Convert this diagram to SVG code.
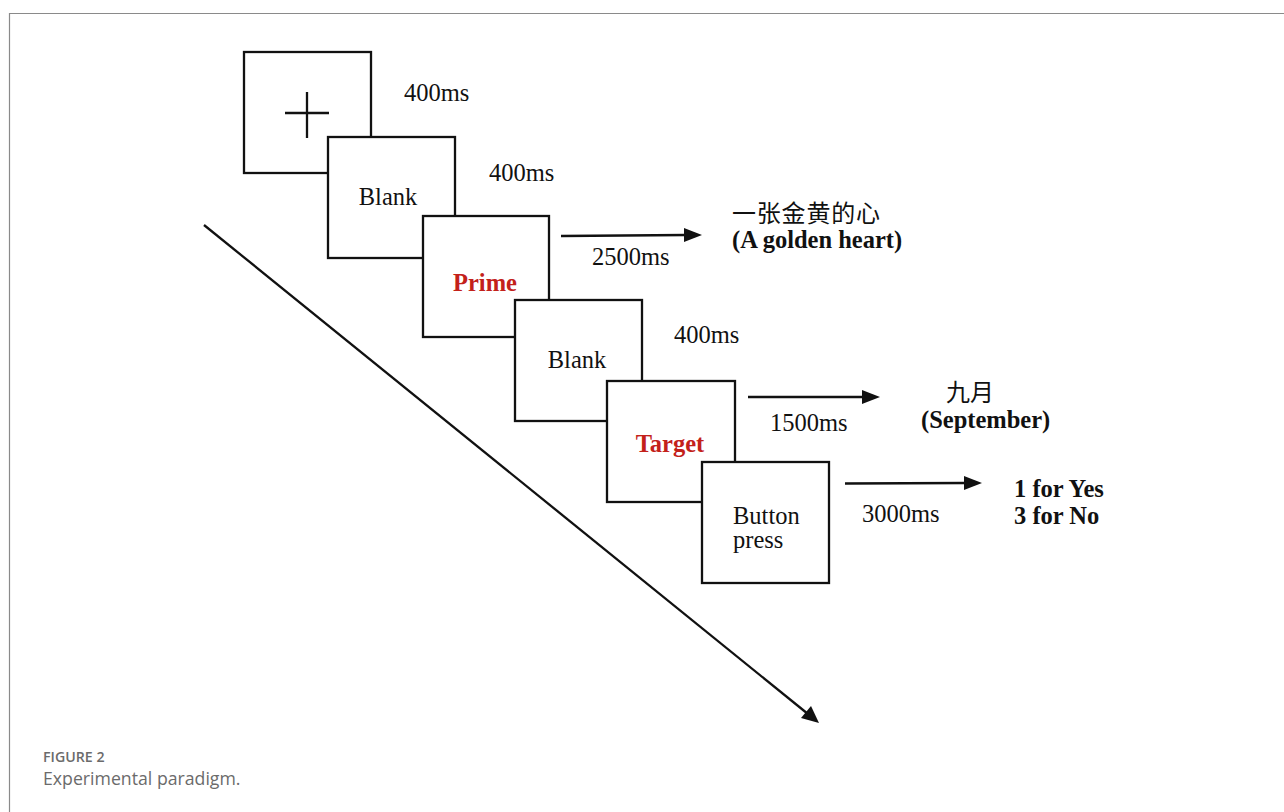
<svg xmlns="http://www.w3.org/2000/svg" width="1284" height="812" viewBox="0 0 1284 812">
<style>
.box{fill:#fff;stroke:#111;stroke-width:2.3}
.t{font-family:"Liberation Serif","Noto Sans CJK SC",serif;font-size:24.5px;fill:#111}
.cj{font-family:"Noto Sans CJK SC",sans-serif;font-size:24px;fill:#111}
.b{font-weight:bold}
.red{fill:#c3211a;font-weight:bold}
.ln{stroke:#111;stroke-width:2.3;fill:none}
.cap{font-family:"Open Sans","Noto Sans",sans-serif;fill:#6b6b6b}
</style>
<rect x="0" y="0" width="1284" height="812" fill="#fff"/>
<path d="M9.5,812 V13.5 H1284" fill="none" stroke="#8a8a8a" stroke-width="1.2"/>
<g id="fixation">
<rect class="box" x="244" y="52" width="127" height="121"/>
<path class="ln" d="M285,113 H329 M307,92 V138" stroke-width="2.2"/>
</g>
<g id="blank1">
<rect class="box" x="328" y="137" width="127" height="121"/>
<text class="t" x="388" y="205" text-anchor="middle">Blank</text>
</g>
<g id="prime">
<rect class="box" x="423" y="216" width="126" height="121"/>
<text class="t red" x="485" y="291" text-anchor="middle">Prime</text>
</g>
<g id="blank2">
<rect class="box" x="515" y="300" width="127" height="121"/>
<text class="t" x="577" y="368" text-anchor="middle">Blank</text>
</g>
<g id="target">
<rect class="box" x="607" y="381" width="128" height="121"/>
<text class="t red" x="670" y="452" text-anchor="middle">Target</text>
</g>
<g id="button">
<rect class="box" x="702" y="462" width="127" height="121"/>
<text class="t" x="733" y="524">Button</text>
<text class="t" x="733" y="548">press</text>
</g>
<g id="connectors">
<path class="ln" d="M561,236 L686,235"/>
<path d="M684,228 L702,235 L684,242 Z" fill="#111"/>
<path class="ln" d="M748,397 L864,397"/>
<path d="M862,390 L880,397 L862,404 Z" fill="#111"/>
<path class="ln" d="M845,483.5 L966,483"/>
<path d="M964,476 L982,483 L964,490 Z" fill="#111"/>
<path class="ln" d="M204,225 L808,714"/>
<path d="M801,718 L819,723 L811,706 Z" fill="#111"/>
</g>
<g id="labels">
<text class="t" x="404" y="101">400ms</text>
<text class="t" x="489" y="181">400ms</text>
<text class="t" x="592" y="265">2500ms</text>
<text class="t" x="674" y="343">400ms</text>
<text class="t" x="770" y="431">1500ms</text>
<text class="t" x="862" y="522">3000ms</text>
<text class="cj" x="732" y="222" textLength="148">一张金黄的心</text>
<text class="t b" x="732" y="248">(A golden heart)</text>
<text class="cj" x="946" y="401">九月</text>
<text class="t b" x="921" y="428">(September)</text>
<text class="t b" x="1014" y="497">1 for Yes</text>
<text class="t b" x="1014" y="524">3 for No</text>
</g>
<g id="caption">
<text class="cap" x="43" y="762" font-size="14.2" font-weight="600">FIGURE 2</text>
<text class="cap" x="43" y="785" font-size="17.7">Experimental paradigm.</text>
</g>
</svg>
